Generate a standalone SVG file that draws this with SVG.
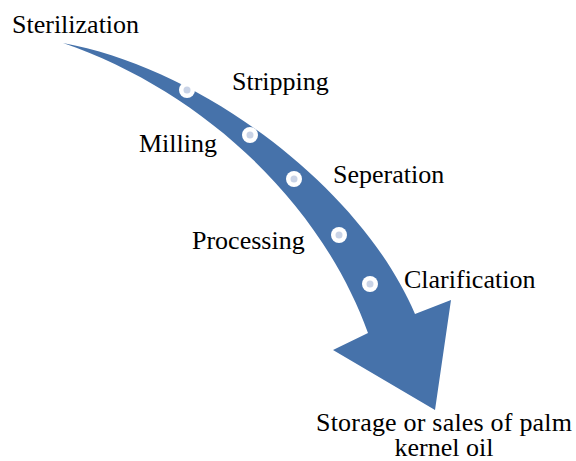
<svg xmlns="http://www.w3.org/2000/svg" width="576" height="461" viewBox="0 0 576 461">
  <style>
    .lbl { font-family: "Liberation Serif", "Times New Roman", serif; font-size: 26px; fill: #000; }
    .ring { fill: #ffffff; }
    .core { fill: #c9d3e6; }
  </style>
  <rect width="576" height="461" fill="#ffffff"/>
  <g id="connectors">
    <!-- curved process arrow -->
    <path id="flow-arrow" fill="#4672aa"
      d="M63,43 C200,68 360,185 415,314 L451,300 L435,410 L333,350 L368,333 C320,200 200,90 63,43 Z"/>
  </g>
  <g id="step-markers">
    <g><circle class="ring" cx="187" cy="90" r="8"/><circle class="core" cx="187" cy="90" r="3.5"/></g>
    <g><circle class="ring" cx="250" cy="135" r="8"/><circle class="core" cx="250" cy="135" r="3.5"/></g>
    <g><circle class="ring" cx="294" cy="179" r="8"/><circle class="core" cx="294" cy="179" r="3.5"/></g>
    <g><circle class="ring" cx="339" cy="235" r="8"/><circle class="core" cx="339" cy="235" r="3.5"/></g>
    <g><circle class="ring" cx="370" cy="284" r="8"/><circle class="core" cx="370" cy="284" r="3.5"/></g>
  </g>
  <g id="sterilization"><text class="lbl" x="12" y="33">Sterilization</text></g>
  <g id="stripping"><text class="lbl" x="232" y="90">Stripping</text></g>
  <g id="milling"><text class="lbl" x="139" y="152">Milling</text></g>
  <g id="seperation"><text class="lbl" x="333" y="183">Seperation</text></g>
  <g id="processing"><text class="lbl" x="192" y="249">Processing</text></g>
  <g id="clarification"><text class="lbl" x="404" y="288">Clarification</text></g>
  <g id="storage">
    <text class="lbl" x="444" y="431" text-anchor="middle" textLength="256">Storage or sales of palm</text>
    <text class="lbl" x="444" y="456" text-anchor="middle">kernel oil</text>
  </g>
</svg>
